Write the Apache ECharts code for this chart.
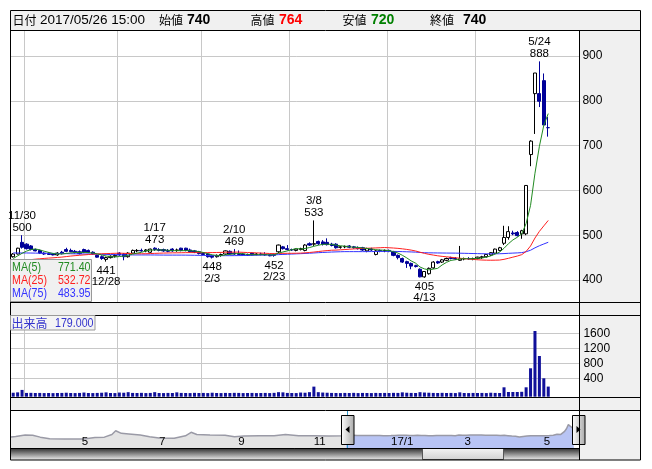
<!DOCTYPE html>
<html><head><meta charset="utf-8">
<script src="https://cdn.jsdelivr.net/npm/echarts@6/dist/echarts.min.js"></script>
<style>html,body{margin:0;padding:0;background:#fff}#c{width:652px;height:469px}</style>
</head><body><div id="c"></div>
<script>
const dates = ['11/28','11/29','11/30',
'12/1','12/2','12/5','12/6','12/7','12/8','12/9','12/12','12/13','12/14','12/15','12/16','12/19','12/20','12/21','12/22','12/26','12/27','12/28','12/29','12/30',
'1/4','1/5','1/6','1/10','1/11','1/12','1/13','1/16','1/17','1/18','1/19','1/20','1/23','1/24','1/25','1/26','1/27','1/30','1/31',
'2/1','2/2','2/3','2/6','2/7','2/8','2/9','2/10','2/13','2/14','2/15','2/16','2/17','2/20','2/21','2/22','2/23','2/24','2/27','2/28',
'3/1','3/2','3/3','3/6','3/7','3/8','3/9','3/10','3/13','3/14','3/15','3/16','3/17','3/21','3/22','3/23','3/24','3/27','3/28','3/29','3/30','3/31',
'4/3','4/4','4/5','4/6','4/7','4/10','4/11','4/12','4/13','4/14','4/17','4/18','4/19','4/20','4/21','4/24','4/25','4/26','4/27','4/28',
'5/1','5/2','5/8','5/9','5/10','5/11','5/12','5/15','5/16','5/17','5/18','5/19','5/22','5/23','5/24','5/25','5/26'];
const open = [452,458,484,480,476,468,466,460,459,458,456,462,468,466,464,463,468,466,462,455,452,446,450,453,
460,458,452,460,465,466,465,462,471,468,468,466,469,466,471,471,467,465,463,
459,458,454,452,455,458,464,460,459,458,457,460,457,458,457,456,457,463,474,470,
468,466,468,466,481,480,486,485,484,480,480,473,474,476,474,472,472,465,469,457,466,465,
466,463,455,448,441,437,432,424,407,414,427,441,440,444,450,448,444,447,448,447,
448,450,452,456,460,466,482,495,505,506,503,503,680,816,816,845,740];
const high = [460,472,500,482,478,470,468,462,462,460,462,465,472,470,467,466,470,468,464,457,455,452,455,458,
462,460,462,468,469,470,469,470,473,471,470,469,471,470,472,472,470,467,465,
462,460,456,457,459,466,466,469,466,460,459,461,460,461,462,458,459,479,476,478,
470,470,472,480,484,533,488,489,493,483,482,476,477,478,476,475,474,472,472,467,468,468,
468,465,457,450,443,439,434,426,420,428,442,443,447,450,452,451,476,450,451,450,
452,454,458,462,470,474,521,520,510,509,512,612,712,862,888,861,764];
const low = [450,457,470,468,466,464,458,456,456,455,454,457,462,462,459,457,460,460,456,450,445,441,448,450,
454,444,450,458,462,463,462,460,465,464,463,462,463,463,464,464,462,460,457,
455,450,448,450,452,456,456,456,455,455,454,455,455,455,454,453,452,460,468,466,
465,464,466,464,476,476,478,477,477,475,470,470,471,471,470,468,465,462,465,455,462,462,
462,453,446,438,427,424,428,406,405,412,425,436,438,442,446,445,443,444,445,444,
446,447,450,454,458,464,478,490,500,497,492,500,654,726,786,746,720];
const close = [458,471,473,470,468,465,460,458,457,456,460,459,464,463,461,459,462,461,458,451,448,450,453,455,
456,452,460,466,466,465,467,469,468,466,465,464,465,467,466,466,463,462,459,
457,452,451,455,457,465,458,458,457,456,455,456,458,457,456,454,455,478,470,468,
467,469,470,478,478,481,481,480,479,477,472,474,475,473,472,470,467,470,467,465,465,466,
465,455,450,440,437,431,430,407,419,426,440,438,445,448,448,447,447,448,447,448,
451,452,457,461,469,472,495,508,503,499,510,611,710,862,799,746,740];
const volume = [15,25,90,10,12,8,10,6,8,5,8,10,15,8,6,10,20,8,6,10,15,25,8,6,
20,15,30,10,8,12,6,10,30,8,6,10,8,25,10,8,6,12,8,
10,6,15,8,6,10,8,12,10,6,8,10,6,8,10,6,12,30,25,10,
8,6,20,15,30,178,30,20,15,10,8,6,10,8,12,6,10,8,6,10,8,10,
8,12,10,25,15,10,8,30,20,15,10,8,12,8,10,6,25,8,6,10,
8,10,6,15,10,8,160,35,35,35,40,160,667,1661,995,400,179];
// closes of the 74 sessions before 11/28 (for the moving averages)
const preCloses = [470,472,475,478,476,474,471,469,468,470,473,476,480,478,475,472,470,468,466,467,
469,471,474,476,473,470,468,466,465,467,470,472,474,471,469,467,466,468,470,473,
475,472,470,468,466,464,462,460,458,
452,448,445,443,441,440,438,437,439,441,440,438,436,435,437,439,441,440,438,437,439,442,444,446,450];
const tickIdx = [3,24,43,63,85,105];
const tickLabels = ['12','17/1','2','3','4','5'];
const priceTicks = [400,500,600,700,800,900];
const volTicks = [400,800,1200,1600];
const annHigh = [['11/30',500],['1/17',473],['2/10',469],['3/8',533],['5/24',888]];
const annLow = [['12/28',441],['2/3',448],['2/23',452],['4/13',405]];
// navigator: closes read from the overview strip (offset in sessions before 11/28)
const navPreDays = [-177.5,-175,-170,-166,-162,-157,-149,-139,-133,-128,-124,-122,-119,-115,-109,-104,-99,-91,-85,-82,-79,-72,-64,-59,-54,-46,-38,-32,-25,-17,-9,-1];
const navPreVals = [405,420,479,470,400,340,332,335,390,400,500,637,540,516,480,416,370,357,450,578,500,479,470,416,445,453,450,497,455,450,445,452];
const navTickDays = [-140,-99,-57,-17,24,63,105];
const navTickLabels = ['5','7','9','11','17/1','3','5'];
const BLANKS = 7;

const LAB = "'Liberation Sans','Arimo',sans-serif";
const SANS = "'Liberation Sans','DejaVu Sans',sans-serif";
const CJK = "'Noto Sans CJK JP','Noto Sans CJK SC',sans-serif";

const cats = dates.concat(Array.from({length: BLANKS}, (_, i) => 'blank' + i));
const allCloses = preCloses.concat(close);
function ma(n) {
  return close.map((_, i) => {
    const end = preCloses.length + i;
    let s = 0;
    for (let k = end - n + 1; k <= end; k++) s += allCloses[k];
    return +(s / n).toFixed(2);
  });
}
const candle = dates.map((d, i) => [open[i], close[i], low[i], high[i]]);
const PMIN = 350.9, PMAX = 958.0, VMIN = -90.7, VMAX = 2088;

const chart = echarts.init(document.getElementById('c'), null, {renderer: 'canvas'});
const monthInterval = (idx) => tickIdx.indexOf(idx) >= 0;
const monthFmt = (v, idx) => tickLabels[tickIdx.indexOf(idx)] || '';

function txt(text, x, y, font, fill, align, sx) {
  return {type: 'text', z: 40, silent: true, x: x, y: y, scaleX: sx || 1,
    style: {text, x: 0, y: 0, font, fill: fill || '#000', textAlign: align || 'left', align: align || 'left',
            textVerticalAlign: 'middle', verticalAlign: 'middle'}};
}
function rect(x, y, w, h, fill, stroke, z) {
  return {type: 'rect', z: z, silent: true, shape: {x, y, width: w, height: h},
    style: {fill: fill || 'none', stroke: stroke || 'none', lineWidth: 1}};
}
function line(x1, y1, x2, y2, color, z) {
  return {type: 'line', z: z || 30, silent: true, shape: {x1, y1, x2, y2},
    style: {stroke: color || '#000', lineWidth: 1}};
}
const NS = 0.82;
const graphics = [
  rect(10, 10, 631, 20, '#f0f0f0', null, 1),
  rect(10, 302, 631, 13, '#f0f0f0', null, 1),
  rect(10, 397, 631, 13, '#f0f0f0', null, 1),
  rect(579, 30, 62, 430, '#f0f0f0', null, 1),
  // scrollbar
  {type: 'rect', z: 5, silent: true, shape: {x: 11, y: 448, width: 568, height: 12},
    style: {fill: {type: 'linear', x: 0, y: 0, x2: 0, y2: 1, colorStops: [{offset: 0, color: '#2a2a2a'}, {offset: 1, color: '#eeeeee'}]}}},
  {type: 'rect', z: 6, silent: true, shape: {x: 422.5, y: 448.5, width: 81, height: 11},
    style: {stroke: '#555', lineWidth: 1, fill: {type: 'linear', x: 0, y: 0, x2: 0, y2: 1, colorStops: [{offset: 0, color: '#f4f4f4'}, {offset: 1, color: '#d0d0d0'}]}}},
  // navigator selection lines & handles
  line(347.5, 410, 347.5, 448, '#3399cc', 8),
  line(579.5, 410, 579.5, 448, '#3399cc', 8),
  {type: 'rect', z: 9, silent: true, shape: {x: 341.5, y: 415.5, width: 12.5, height: 29},
    style: {stroke: '#000', lineWidth: 1, fill: {type: 'linear', x: 0, y: 0, x2: 1, y2: 0, colorStops: [{offset: 0, color: '#ffffff'}, {offset: 1, color: '#a8a8a8'}]}}},
  {type: 'polygon', z: 10, silent: true, shape: {points: [[349.5, 426], [349.5, 433], [345.5, 429.5]]}, style: {fill: '#000'}},
  {type: 'rect', z: 9, silent: true, shape: {x: 572.5, y: 415.5, width: 12.5, height: 29},
    style: {stroke: '#000', lineWidth: 1, fill: {type: 'linear', x: 0, y: 0, x2: 1, y2: 0, colorStops: [{offset: 0, color: '#ffffff'}, {offset: 1, color: '#a8a8a8'}]}}},
  {type: 'polygon', z: 10, silent: true, shape: {points: [[576.5, 426], [576.5, 433], [580.5, 429.5]]}, style: {fill: '#000'}},
  // borders
  {type: 'rect', z: 30, silent: true, shape: {x: 10.5, y: 10.5, width: 630, height: 449.5}, style: {fill: 'none', stroke: '#000', lineWidth: 1}},
  line(10, 30.5, 641, 30.5), line(10, 302.5, 641, 302.5), line(10, 315.5, 641, 315.5),
  line(10, 397.5, 641, 397.5), line(10, 410.5, 641, 410.5), line(10, 448.5, 579, 448.5),
  line(579.5, 30, 579.5, 460),
  // MA legend box
  rect(10.5, 259.5, 81, 42, '#f0f0f0', '#999', 35),
  txt('MA(5)', 12, 267.5, '13px ' + LAB, '#228b22', 'left', NS),
  txt('MA(25)', 12, 280.5, '13px ' + LAB, '#ff2020', 'left', NS),
  txt('MA(75)', 12, 293.5, '13px ' + LAB, '#3333ff', 'left', NS),
  txt('771.40', 90.5, 267.5, '13px ' + LAB, '#228b22', 'right', NS),
  txt('532.72', 90.5, 280.5, '13px ' + LAB, '#ff2020', 'right', NS),
  txt('483.95', 90.5, 293.5, '13px ' + LAB, '#3333ff', 'right', NS),
  // volume label box
  rect(10.5, 315.5, 84.5, 14.5, '#f4f4f4', '#999', 35),
  txt('出来高', 11.5, 323, '12px ' + CJK, '#3333cc'),
  txt('179.000', 93.5, 323, '13px ' + LAB, '#3333cc', 'right', NS),
  // header
  txt('日付', 12.5, 20.5, '12px ' + CJK),
  txt('2017/05/26 15:00', 40, 20.5, '13.5px ' + SANS),
  txt('始値', 159, 20.5, '12px ' + CJK),
  txt('740', 187, 20.5, 'bold 14px ' + SANS),
  txt('高値', 250.5, 20.5, '12px ' + CJK),
  txt('764', 279, 20.5, 'bold 14px ' + SANS, '#ff0000'),
  txt('安値', 342.5, 20.5, '12px ' + CJK),
  txt('720', 371, 20.5, 'bold 14px ' + SANS, '#008000'),
  txt('終値', 430, 20.5, '12px ' + CJK),
  txt('740', 463, 20.5, 'bold 14px ' + SANS)
];

const axisLabelBase = {fontFamily: LAB, fontSize: 11.5, color: '#000'};
const option = {
  animation: false,
  backgroundColor: '#fff',
  grid: [
    {left: 11, top: 30, width: 570.4, height: 272},
    {left: 11, top: 315, width: 570.4, height: 81.7},
    {left: 11, top: 410, width: 568.3, height: 38}
  ],
  xAxis: [
    {type: 'category', gridIndex: 0, data: cats, boundaryGap: true, z: 0,
     axisLine: {show: false}, axisTick: {show: false, interval: monthInterval},
     splitLine: {show: true, interval: monthInterval, lineStyle: {color: '#c8c8c8', width: 1}},
     axisLabel: Object.assign({interval: monthInterval, formatter: monthFmt, align: 'left', margin: 1, verticalAlign: 'top'}, axisLabelBase)},
    {type: 'category', gridIndex: 1, data: cats, boundaryGap: true, z: 0,
     axisLine: {show: false}, axisTick: {show: false, interval: monthInterval},
     splitLine: {show: true, interval: monthInterval, lineStyle: {color: '#c8c8c8', width: 1}},
     axisLabel: Object.assign({interval: monthInterval, formatter: monthFmt, align: 'left', margin: 2, verticalAlign: 'top'}, axisLabelBase)},
    {type: 'value', gridIndex: 2, min: -177.5, max: 123.8, z: 12,
     axisLine: {show: false}, axisTick: {show: false}, splitLine: {show: false},
     axisLabel: Object.assign({customValues: navTickDays, inside: true, margin: 0, align: 'left',
       formatter: (v) => navTickLabels[navTickDays.indexOf(v)] || ''}, axisLabelBase)}
  ],
  yAxis: [
    {type: 'value', gridIndex: 0, min: PMIN, max: PMAX, z: 0, axisLine: {show: false},
     axisTick: {show: false, customValues: priceTicks}, axisLabel: {show: false},
     splitLine: {show: true, customValues: priceTicks, lineStyle: {color: '#c8c8c8'}}},
    {type: 'value', gridIndex: 0, min: PMIN, max: PMAX, position: 'right', z: 12, axisLine: {show: false},
     axisTick: {show: false, customValues: priceTicks}, splitLine: {show: false},
     axisLabel: Object.assign({customValues: priceTicks, margin: 1, formatter: (v) => String(v)}, axisLabelBase, {fontSize: 12})},
    {type: 'value', gridIndex: 1, min: VMIN, max: VMAX, z: 0, axisLine: {show: false},
     axisTick: {show: false, customValues: volTicks}, axisLabel: {show: false},
     splitLine: {show: true, customValues: volTicks, lineStyle: {color: '#c8c8c8'}}},
    {type: 'value', gridIndex: 1, min: VMIN, max: VMAX, position: 'right', z: 12, axisLine: {show: false},
     axisTick: {show: false, customValues: volTicks}, splitLine: {show: false},
     axisLabel: Object.assign({customValues: volTicks, margin: 2, formatter: (v) => String(v)}, axisLabelBase, {fontSize: 12})},
    {type: 'value', gridIndex: 2, min: 0, max: 1400, show: false}
  ],
  series: [
    {type: 'candlestick', xAxisIndex: 0, yAxisIndex: 0, data: candle, barWidth: 3.6, z: 2,
     itemStyle: {color: '#ffffff', color0: '#000099', borderColor: '#000000', borderColor0: '#000099', borderWidth: 1},
     markPoint: {symbol: 'circle', symbolSize: 0, silent: true, animation: false,
       itemStyle: {color: 'rgba(0,0,0,0)'},
       label: {show: true, color: '#000', fontFamily: LAB, fontSize: 11.5, lineHeight: 11.5},
       data: annHigh.map(([d, v]) => ({coord: [dates.indexOf(d), v], value: v,
               label: {position: 'top', distance: 2, formatter: d + '\n' + v}}))
         .concat(annLow.map(([d, v]) => ({coord: [dates.indexOf(d), v], value: v,
               label: {position: 'bottom', distance: 3, formatter: v + '\n' + d}})))}},
    {type: 'line', name: 'MA(75)', xAxisIndex: 0, yAxisIndex: 0, data: ma(75), showSymbol: false, z: 3,
     lineStyle: {color: '#3333ff', width: 1}},
    {type: 'line', name: 'MA(25)', xAxisIndex: 0, yAxisIndex: 0, data: ma(25), showSymbol: false, z: 3,
     lineStyle: {color: '#ff2020', width: 1}},
    {type: 'line', name: 'MA(5)', xAxisIndex: 0, yAxisIndex: 0, data: ma(5), showSymbol: false, z: 3,
     lineStyle: {color: '#228b22', width: 1}},
    {type: 'custom', xAxisIndex: 1, yAxisIndex: 2, z: 2,
     data: volume.map((v, i) => [i, v]), encode: {x: 0, y: 1},
     renderItem: (params, api) => {
       const p = api.coord([api.value(0), api.value(1)]);
       const bw = api.size([1, 0])[0] * 0.68;
       const base = params.coordSys.y + params.coordSys.height;
       return {type: 'rect', shape: {x: p[0] - bw / 2, y: p[1], width: bw, height: base - p[1]},
               style: {fill: '#10109a'}};
     }},
    {type: 'line', xAxisIndex: 2, yAxisIndex: 4, showSymbol: false, z: 2,
     data: navPreDays.map((d, i) => [d, navPreVals[i]]).concat([[0, close[0]]]),
     lineStyle: {color: '#9a9aa6', width: 1.5}, areaStyle: {color: '#e4e4e4', opacity: 1}},
    {type: 'line', xAxisIndex: 2, yAxisIndex: 4, showSymbol: false, z: 2,
     data: close.map((c, i) => [i, c]),
     lineStyle: {color: '#9a9aa6', width: 1.5}, areaStyle: {color: '#b8c4f4', opacity: 1}}
  ],
  graphic: {elements: graphics}
};
chart.setOption(option);
</script></body></html>
